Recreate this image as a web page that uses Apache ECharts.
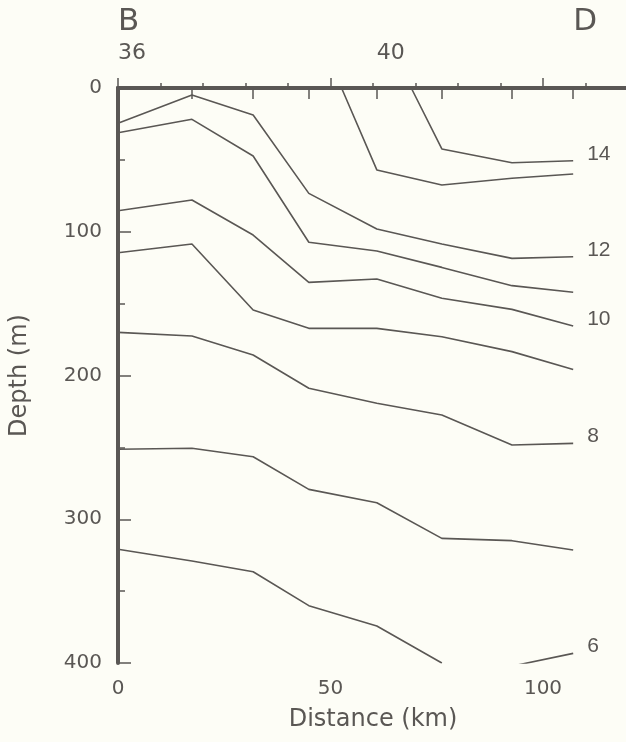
<!DOCTYPE html>
<html>
<head>
<meta charset="utf-8">
<script src="https://cdn.jsdelivr.net/npm/echarts@6/dist/echarts.min.js"></script>
<style>
  html, body { margin: 0; padding: 0; background: #fdfdf6; }
</style>
</head>
<body>
<div id="main" style="width: 626px;height:742px;"></div>
<script type="text/javascript">
    // station positions along the section (km) and their numbers
    var stationKm = [0, 17.4, 31.8, 44.9, 60.9, 76.2, 92.7, 107.1];
    var stationLabelKm = [0, 60.9];
    var stationLabels = ['36', '40'];
    var endKm = [0, 107.1];
    var endLabels = ['B', 'D'];

    // isotherm depths (m) at each station
    var iso12 = [24.6, 4.9, 18.8, 73.3, 98.1, 108.5, 118.5, 117.4];
    var iso11 = [31.1, 21.8, 47.3, 107.3, 113.4, 124.8, 137.5, 142.1];
    var iso10 = [85.4, 77.9, 102.3, 135.2, 132.9, 146.3, 154.0, 165.6];
    var iso9 = [114.6, 108.5, 154.4, 167.2, 167.2, 173.0, 183.4, 195.8];
    var iso8 = [170.0, 172.5, 185.7, 208.9, 219.3, 227.5, 248.3, 247.2];
    var iso7 = [251.3, 250.6, 256.5, 279.2, 288.5, 313.3, 314.9, 321.4];
    var iso65 = [320.9, 329.0, 336.5, 360.1, 374.3, 400];
    var iso6 = [402.2, 393.3];

    // isotherms that outcrop at the surface
    var iso13Km = [52.6, 60.9, 76.2, 92.7, 107.1];
    var iso13 = [0, 57.0, 67.5, 62.8, 59.8];
    var iso14Km = [69.0, 76.2, 92.7, 107.1];
    var iso14 = [0, 42.4, 52.0, 50.6];

    var ink = '#5a5754';
    var font = 'DejaVu Sans';

    function pairs(xs, ys) {
        return ys.map(function (y, i) { return [xs[i], y]; });
    }

    function iso(name, data, label) {
        var s = {
            name: name,
            type: 'line',
            data: data,
            symbol: 'none',
            clip: true,
            lineStyle: { color: ink, width: 1.6 },
            z: 3
        };
        if (label) {
            s.endLabel = {
                show: true,
                formatter: label,
                color: ink,
                fontFamily: 'Liberation Sans',
                fontSize: 21,
                distance: 14,
                offset: [0, -7]
            };
        }
        return s;
    }

    var myChart = echarts.init(document.getElementById('main'));

    var option = {
        backgroundColor: '#fdfdf6',
        animation: false,
        grid: { left: 118, top: 88, width: 510, height: 575, containLabel: false, outerBoundsMode: 'none' },
        xAxis: [
            {
                type: 'value', position: 'bottom', min: 0, max: 120, interval: 10,
                axisLine: { show: true, lineStyle: { color: ink, width: 4 } },
                axisTick: { show: true, inside: true, length: 5, lineStyle: { color: ink, width: 1.5 } },
                axisLabel: { show: false },
                splitLine: { show: false }
            },
            {
                type: 'value', position: 'bottom', min: 0, max: 120, interval: 50,
                axisLine: { show: false },
                axisTick: { show: true, inside: true, length: 10, lineStyle: { color: ink, width: 1.5 } },
                axisLabel: { color: ink, fontFamily: font, fontSize: 20, margin: 16, showMaxLabel: false },
                splitLine: { show: false },
                name: 'Distance (km)',
                nameLocation: 'middle',
                nameGap: 45,
                nameTextStyle: { color: ink, fontFamily: font, fontSize: 24 }
            },
            {
                type: 'value', position: 'top', min: 0, max: 120,
                axisLine: { show: true, lineStyle: { color: ink, width: 4 } },
                axisTick: { show: true, inside: true, length: 11, customValues: stationKm.slice(1), lineStyle: { color: ink, width: 1.5 } },
                axisLabel: {
                    customValues: stationLabelKm,
                    formatter: function (v) { return stationLabels[stationLabelKm.indexOf(v)]; },
                    align: 'left', color: ink, fontFamily: font, fontSize: 22, margin: 24
                },
                splitLine: { show: false }
            },
            {
                type: 'value', position: 'top', min: 0, max: 120,
                axisLine: { show: false },
                axisTick: { show: false },
                axisLabel: {
                    customValues: endKm,
                    formatter: function (v) { return endLabels[endKm.indexOf(v)]; },
                    align: 'left', color: ink, fontFamily: font, fontSize: 31, margin: 51
                },
                splitLine: { show: false }
            }
        ],
        yAxis: [
            {
                type: 'value', position: 'left', inverse: true, min: 0, max: 400, interval: 50,
                axisLine: { show: true, lineStyle: { color: ink, width: 4 } },
                axisTick: { show: true, inside: true, length: 7, lineStyle: { color: ink, width: 1.5 } },
                axisLabel: { show: false },
                splitLine: { show: false }
            },
            {
                type: 'value', position: 'left', inverse: true, min: 0, max: 400, interval: 100,
                axisLine: { show: false },
                axisTick: { show: true, inside: true, length: 13, lineStyle: { color: ink, width: 1.5 } },
                axisLabel: { color: ink, fontFamily: font, fontSize: 20, margin: 16 },
                splitLine: { show: false },
                name: 'Depth (m)',
                nameLocation: 'middle',
                nameGap: 86,
                nameTextStyle: { color: ink, fontFamily: font, fontSize: 24 }
            }
        ],
        series: [
            iso('14', pairs(iso14Km, iso14), '14'),
            iso('13', pairs(iso13Km, iso13)),
            iso('12', pairs(stationKm, iso12), '12'),
            iso('11', pairs(stationKm, iso11)),
            iso('10', pairs(stationKm, iso10), '10'),
            iso('9', pairs(stationKm, iso9)),
            iso('8', pairs(stationKm, iso8), '8'),
            iso('7', pairs(stationKm, iso7)),
            iso('6.5', pairs(stationKm, iso65)),
            iso('6', pairs(stationKm.slice(6), iso6), '6')
        ]
    };

    myChart.setOption(option);
</script>
</body>
</html>
